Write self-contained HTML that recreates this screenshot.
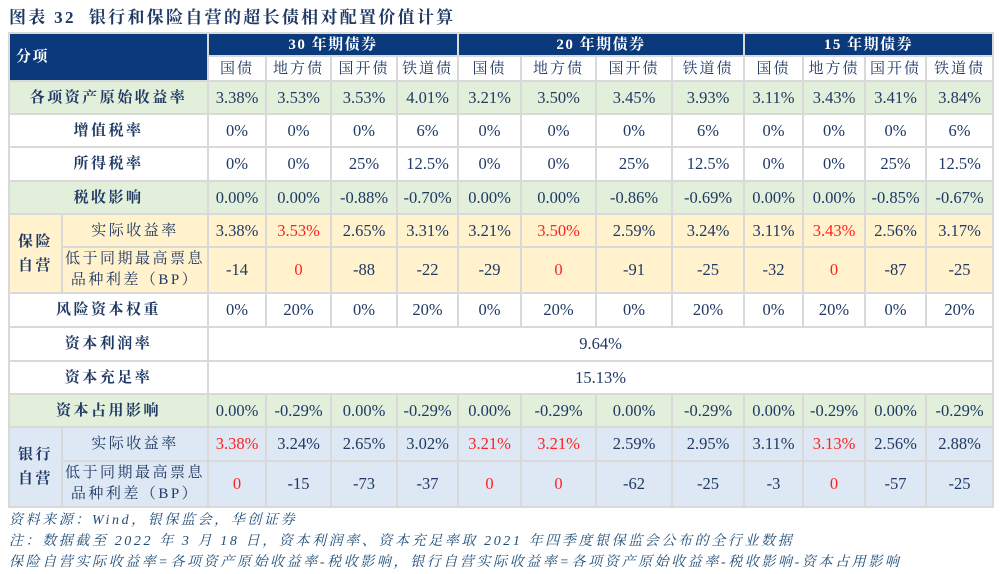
<!DOCTYPE html>
<html><head><meta charset="utf-8">
<style>
body{margin:0;width:1000px;height:574px;background:#fff;overflow:hidden;position:relative;font-family:"Liberation Serif","Noto Serif CJK SC",serif;color:#1f3864}
.title{position:absolute;left:9px;top:3px;font-size:17px;font-weight:bold;color:#1f3864;letter-spacing:2.3px;white-space:nowrap}
table{position:absolute;left:8px;top:32px;border-collapse:collapse;table-layout:fixed;width:984px}
td{border:2px solid #d9d9d9;text-align:center;font-size:16.5px;padding:0;line-height:18px;white-space:nowrap}
.h{background:#0b3a7c;color:#fff;font-weight:bold;font-size:15px;letter-spacing:1.5px}
.bt td{font-size:15px;letter-spacing:2px}
.lb{font-weight:bold;font-size:15px;letter-spacing:2.5px}
.g td{background:#e2efda}
.y td{background:#fff2cc}
.b td{background:#dde8f4}
.r{color:#ff2020}
.sub{font-size:15px;font-weight:normal;letter-spacing:2.5px}
.foot{position:absolute;left:9px;font-size:14px;font-style:italic;color:#1f4e79;letter-spacing:2.6px;white-space:nowrap}
</style></head><body>
<div class="title">图表 32&nbsp; 银行和保险自营的超长债相对配置价值计算</div>
<table>
<colgroup><col style="width:53px"><col style="width:146px">
<col style="width:58px"><col style="width:65px"><col style="width:66px"><col style="width:61px">
<col style="width:63px"><col style="width:75px"><col style="width:76px"><col style="width:72px">
<col style="width:59px"><col style="width:62px"><col style="width:61px"><col style="width:67px"></colgroup>
<tr style="height:23px"><td class="h" colspan="2" rowspan="2" style="text-align:left;padding-left:6px">分项</td>
<td class="h" colspan="4">30 年期债券</td>
<td class="h" colspan="4">20 年期债券</td>
<td class="h" colspan="4">15 年期债券</td></tr>
<tr class="bt" style="height:25px"><td>国债</td><td>地方债</td><td>国开债</td><td>铁道债</td><td>国债</td><td>地方债</td><td>国开债</td><td>铁道债</td><td>国债</td><td>地方债</td><td>国开债</td><td>铁道债</td></tr>
<tr class="g" style="height:33px"><td colspan="2" class="lb">各项资产原始收益率</td><td>3.38%</td><td>3.53%</td><td>3.53%</td><td>4.01%</td><td>3.21%</td><td>3.50%</td><td>3.45%</td><td>3.93%</td><td>3.11%</td><td>3.43%</td><td>3.41%</td><td>3.84%</td></tr>
<tr style="height:33px"><td colspan="2" class="lb">增值税率</td><td>0%</td><td>0%</td><td>0%</td><td>6%</td><td>0%</td><td>0%</td><td>0%</td><td>6%</td><td>0%</td><td>0%</td><td>0%</td><td>6%</td></tr>
<tr style="height:34px"><td colspan="2" class="lb">所得税率</td><td>0%</td><td>0%</td><td>25%</td><td>12.5%</td><td>0%</td><td>0%</td><td>25%</td><td>12.5%</td><td>0%</td><td>0%</td><td>25%</td><td>12.5%</td></tr>
<tr class="g" style="height:33px"><td colspan="2" class="lb">税收影响</td><td>0.00%</td><td>0.00%</td><td>-0.88%</td><td>-0.70%</td><td>0.00%</td><td>0.00%</td><td>-0.86%</td><td>-0.69%</td><td>0.00%</td><td>0.00%</td><td>-0.85%</td><td>-0.67%</td></tr>
<tr class="y" style="height:33px"><td rowspan="2" class="lb" style="line-height:24px">保险<br>自营</td><td class="sub">实际收益率</td><td>3.38%</td><td class="r">3.53%</td><td>2.65%</td><td>3.31%</td><td>3.21%</td><td class="r">3.50%</td><td>2.59%</td><td>3.24%</td><td>3.11%</td><td class="r">3.43%</td><td>2.56%</td><td>3.17%</td></tr>
<tr class="y" style="height:46px"><td class="sub" style="line-height:21px">低于同期最高票息<br>品种利差（BP）</td><td>-14</td><td class="r">0</td><td>-88</td><td>-22</td><td>-29</td><td class="r">0</td><td>-91</td><td>-25</td><td>-32</td><td class="r">0</td><td>-87</td><td>-25</td></tr>
<tr style="height:34px"><td colspan="2" class="lb">风险资本权重</td><td>0%</td><td>20%</td><td>0%</td><td>20%</td><td>0%</td><td>20%</td><td>0%</td><td>20%</td><td>0%</td><td>20%</td><td>0%</td><td>20%</td></tr>
<tr style="height:34px"><td colspan="2" class="lb">资本利润率</td><td colspan="12">9.64%</td></tr>
<tr style="height:33px"><td colspan="2" class="lb">资本充足率</td><td colspan="12">15.13%</td></tr>
<tr class="g" style="height:33px"><td colspan="2" class="lb">资本占用影响</td><td>0.00%</td><td>-0.29%</td><td>0.00%</td><td>-0.29%</td><td>0.00%</td><td>-0.29%</td><td>0.00%</td><td>-0.29%</td><td>0.00%</td><td>-0.29%</td><td>0.00%</td><td>-0.29%</td></tr>
<tr class="b" style="height:34px"><td rowspan="2" class="lb" style="line-height:24px">银行<br>自营</td><td class="sub">实际收益率</td><td class="r">3.38%</td><td>3.24%</td><td>2.65%</td><td>3.02%</td><td class="r">3.21%</td><td class="r">3.21%</td><td>2.59%</td><td>2.95%</td><td>3.11%</td><td class="r">3.13%</td><td>2.56%</td><td>2.88%</td></tr>
<tr class="b" style="height:46px"><td class="sub" style="line-height:21px">低于同期最高票息<br>品种利差（BP）</td><td class="r">0</td><td>-15</td><td>-73</td><td>-37</td><td class="r">0</td><td class="r">0</td><td>-62</td><td>-25</td><td>-3</td><td class="r">0</td><td>-57</td><td>-25</td></tr>
</table>
<div class="foot" style="top:509px">资料来源：Wind，银保监会，华创证券</div>
<div class="foot" style="top:530px">注：数据截至 2022 年 3 月 18 日，资本利润率、资本充足率取 2021 年四季度银保监会公布的全行业数据</div>
<div class="foot" style="top:551px">保险自营实际收益率=各项资产原始收益率-税收影响，银行自营实际收益率=各项资产原始收益率-税收影响-资本占用影响</div>
</body></html>
